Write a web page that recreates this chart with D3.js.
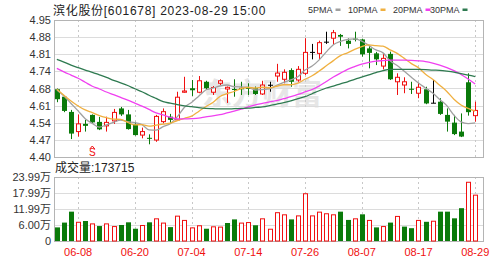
<!DOCTYPE html>
<html>
<head>
<meta charset="utf-8">
<script src="https://cdn.jsdelivr.net/npm/d3@7"></script>
<style>
body { margin: 0; background: #fff; }
text { font-family: "Liberation Sans", "Noto Sans CJK SC", sans-serif; }
</style>
</head>
<body>
<div id="chart"></div>
<script>
var dates = ["06-05","06-06","06-07","06-08","06-09","06-12","06-13","06-14","06-15","06-16",
    "06-19","06-20","06-21","06-26","06-27","06-28","06-29","06-30","07-03","07-04",
    "07-05","07-06","07-07","07-10","07-11","07-12","07-13","07-14","07-17","07-18",
    "07-19","07-20","07-21","07-24","07-25","07-26","07-27","07-28","07-31","08-01",
    "08-02","08-03","08-04","08-07","08-08","08-09","08-10","08-11","08-14","08-15",
    "08-16","08-17","08-18","08-21","08-22","08-23","08-24","08-25","08-28","08-29"];

var tickDates = ["06-08","06-20","07-04","07-14","07-26","08-07","08-17","08-29"];

var open = [4.672,4.642,4.581,4.502,4.533,4.569,4.541,4.525,4.545,4.595,
    4.571,4.531,4.488,4.477,4.468,4.542,4.562,4.549,4.660,4.676,
    4.660,4.702,4.660,4.696,4.673,4.673,4.678,4.677,4.676,4.653,
    4.690,4.725,4.712,4.749,4.709,4.736,4.822,4.816,4.863,4.877,
    4.890,4.867,4.875,4.872,4.836,4.816,4.765,4.814,4.702,4.689,
    4.674,4.656,4.672,4.618,4.622,4.569,4.538,4.502,4.700,4.566];
var high = [4.675,4.645,4.589,4.571,4.549,4.571,4.561,4.562,4.593,4.601,
    4.589,4.541,4.518,4.491,4.569,4.595,4.573,4.662,4.722,4.709,
    4.725,4.706,4.685,4.712,4.683,4.712,4.702,4.696,4.683,4.706,
    4.702,4.774,4.752,4.756,4.765,4.877,4.854,4.867,4.903,4.910,
    4.894,4.876,4.903,4.875,4.846,4.822,4.814,4.823,4.736,4.720,
    4.702,4.698,4.682,4.709,4.636,4.595,4.569,4.575,4.736,4.622];
var low = [4.620,4.580,4.472,4.482,4.502,4.533,4.508,4.502,4.533,4.565,
    4.510,4.486,4.475,4.451,4.461,4.535,4.535,4.545,4.658,4.645,
    4.656,4.669,4.649,4.689,4.617,4.642,4.649,4.649,4.649,4.649,
    4.662,4.702,4.696,4.682,4.702,4.729,4.792,4.792,4.854,4.850,
    4.846,4.836,4.864,4.803,4.756,4.769,4.752,4.709,4.649,4.656,
    4.653,4.636,4.612,4.616,4.569,4.502,4.488,4.480,4.566,4.542];
var close = [4.632,4.585,4.494,4.533,4.525,4.539,4.511,4.539,4.579,4.571,
    4.512,4.488,4.502,4.474,4.563,4.582,4.549,4.640,4.665,4.668,
    4.706,4.676,4.679,4.706,4.680,4.670,4.672,4.674,4.653,4.689,
    4.690,4.737,4.740,4.702,4.752,4.820,4.822,4.859,4.863,4.899,
    4.883,4.854,4.872,4.812,4.818,4.792,4.796,4.712,4.720,4.702,
    4.670,4.680,4.615,4.618,4.573,4.542,4.492,4.482,4.580,4.587];
var prevClose0 = 4.660;

var volume = [51000,69000,110000,72000,75000,66000,56000,66000,56000,60000,
    70000,46000,60000,70000,85000,69000,52000,95000,79000,51000,
    59000,46000,55000,54000,67500,81000,69000,71000,59000,85000,
    46000,108000,100000,81000,96000,179000,96000,110000,104000,100000,
    110000,79000,85000,100000,79000,51000,56000,69000,94000,54000,
    48000,79000,72000,76000,110000,110000,85000,123000,222000,173715];

var ma5 = [4.669,4.645,4.615,4.585,4.554,4.535,4.520,4.529,4.539,4.548,
    4.542,4.538,4.530,4.509,4.508,4.522,4.534,4.562,4.600,4.619,
    4.644,4.669,4.677,4.685,4.689,4.682,4.681,4.680,4.669,4.671,
    4.674,4.688,4.700,4.710,4.722,4.749,4.765,4.790,4.822,4.851,
    4.864,4.872,4.874,4.865,4.848,4.830,4.818,4.786,4.767,4.744,
    4.720,4.697,4.677,4.657,4.631,4.606,4.568,4.541,4.534,4.537];
var ma10 = [4.672,4.648,4.625,4.605,4.589,4.578,4.566,4.558,4.552,4.551,
    4.539,4.529,4.530,4.524,4.528,4.532,4.536,4.546,4.555,4.564,
    4.583,4.602,4.619,4.643,4.654,4.663,4.675,4.679,4.677,4.680,
    4.678,4.684,4.690,4.690,4.697,4.712,4.726,4.745,4.766,4.787,
    4.807,4.818,4.832,4.843,4.850,4.847,4.845,4.830,4.816,4.796,
    4.775,4.758,4.732,4.712,4.688,4.663,4.632,4.609,4.595,4.584];
var ma20 = [4.756,4.742,4.729,4.716,4.700,4.684,4.673,4.661,4.650,4.639,
    4.628,4.616,4.604,4.591,4.577,4.569,4.559,4.553,4.553,4.554,
    4.556,4.561,4.565,4.570,4.577,4.584,4.592,4.601,4.609,4.615,
    4.621,4.626,4.634,4.642,4.651,4.661,4.671,4.685,4.703,4.721,
    4.737,4.752,4.763,4.773,4.780,4.785,4.787,4.789,4.789,4.789,
    4.788,4.786,4.783,4.777,4.769,4.759,4.747,4.731,4.713,4.693];
var ma30 = [4.792,4.781,4.769,4.759,4.749,4.740,4.730,4.720,4.708,4.698,
    4.687,4.674,4.662,4.648,4.635,4.622,4.616,4.610,4.605,4.602,
    4.598,4.595,4.594,4.593,4.593,4.594,4.595,4.596,4.599,4.601,
    4.606,4.612,4.618,4.625,4.634,4.642,4.654,4.666,4.677,4.685,
    4.694,4.702,4.712,4.721,4.730,4.739,4.747,4.752,4.752,4.752,
    4.752,4.752,4.751,4.749,4.748,4.745,4.741,4.735,4.729,4.723];

var maNames = ["5PMA", "10PMA", "20PMA", "30PMA"];
var maColors = ["#a0a0a0", "#f0b040", "#f040f0", "#2e7a50"];

var title = "滨化股份[601678] 2023-08-29 15:00";
var volTitle = "成交量:173715";
var signalIndex = 5;

var red = "#f01010", green = "#0a7a0a";

var W = 503, H = 262;
var left = 54, right = 483;
var priceTop = 20, priceBottom = 157;
var volTop = 177, volBottom = 241;

var svg = d3.select("#chart").append("svg")
    .attr("width", W).attr("height", H);

var x = d3.scaleLinear().domain([-0.4, 60.1]).range([left, right]);
var y = d3.scaleLinear().domain([4.40, 4.95]).range([priceBottom, priceTop]);
var yv = d3.scaleLinear().domain([0, 239900]).range([volBottom, volTop]);

var priceTicks = d3.range(9).map(function (k) { return 4.40 + k * 0.55 / 8; });
var volTicks = d3.range(5).map(function (k) { return 239900 * k / 4; });
var tickIdx = tickDates.map(function (d) { return dates.indexOf(d); });

// watermark
svg.append("text")
    .attr("x", 262).attr("y", 104)
    .attr("text-anchor", "middle")
    .style("font-size", "30px").style("font-weight", "bold")
    .style("fill", "#e6e6e6")
    .text("东方财富");

// grids
function hgrid(scale, ticks) {
    svg.append("g")
        .selectAll("line").data(ticks).enter().append("line")
        .attr("x1", left).attr("x2", right)
        .attr("y1", function (d) { return Math.round(scale(d)) + 0.5; })
        .attr("y2", function (d) { return Math.round(scale(d)) + 0.5; })
        .attr("stroke", "#dcdcdc");
}
hgrid(y, priceTicks);
hgrid(yv, volTicks);

[[priceTop, priceBottom], [volTop, volBottom]].forEach(function (r) {
    svg.append("g").selectAll("line").data(tickIdx).enter().append("line")
        .attr("x1", function (d) { return Math.round(x(d)) + 0.5; })
        .attr("x2", function (d) { return Math.round(x(d)) + 0.5; })
        .attr("y1", r[0]).attr("y2", r[1])
        .attr("stroke", "#c8c8c8")
        .attr("stroke-dasharray", "2,3");
    svg.append("rect")
        .attr("x", left + 0.5).attr("y", r[0] + 0.5)
        .attr("width", right - left).attr("height", r[1] - r[0])
        .attr("fill", "none").attr("stroke", "#b4b4b4");
});

// y labels
svg.append("g").selectAll("text").data(priceTicks).enter().append("text")
    .attr("x", 51).attr("y", function (d) { return y(d) + 4; })
    .attr("text-anchor", "end")
    .style("font-size", "11px").style("fill", "#333")
    .text(function (d) { return (d + 1e-9).toFixed(2); });

svg.append("g").selectAll("text").data(volTicks).enter().append("text")
    .attr("x", 51).attr("y", function (d) { return yv(d) + 4; })
    .attr("text-anchor", "end")
    .style("font-size", "11px").style("fill", "#333")
    .text(function (d) { return d === 0 ? "0" : (d / 10000).toFixed(2) + "万"; });

// x labels
svg.append("g").selectAll("text").data(tickIdx).enter().append("text")
    .attr("x", function (d) { return x(d); }).attr("y", 256)
    .attr("text-anchor", "middle")
    .style("font-size", "11px").style("fill", red)
    .text(function (d) { return dates[d]; });

// candles
var idx = d3.range(dates.length);
var bw = 5;
var candles = svg.append("g").selectAll("g").data(idx).enter().append("g");
function candleColor(i) {
    if (close[i] > open[i]) return red;
    if (close[i] < open[i]) return green;
    return "#000";
}
candles.append("line")
    .attr("x1", function (i) { return Math.round(x(i)) + 0.5; })
    .attr("x2", function (i) { return Math.round(x(i)) + 0.5; })
    .attr("y1", function (i) { return y(high[i]); })
    .attr("y2", function (i) { return y(low[i]); })
    .attr("stroke", candleColor);
candles.append("rect")
    .attr("x", function (i) { return Math.round(x(i)) - 2 + (close[i] > open[i] ? 0.5 : 0); })
    .attr("y", function (i) { return y(Math.max(open[i], close[i])); })
    .attr("width", function (i) { return close[i] > open[i] ? bw - 1 : bw; })
    .attr("height", function (i) { return Math.max(1, Math.abs(y(open[i]) - y(close[i]))); })
    .attr("fill", function (i) { return close[i] > open[i] ? "#fff" : candleColor(i); })
    .attr("stroke", function (i) { return close[i] > open[i] ? red : "none"; });

// moving averages
[ma5, ma10, ma20, ma30].forEach(function (s, k) {
    svg.append("path")
        .datum(s)
        .attr("fill", "none")
        .attr("stroke", maColors[k])
        .attr("stroke-width", 1.3)
        .attr("d", d3.line()
            .x(function (d, i) { return x(i); })
            .y(function (d) { return y(d); })
            .curve(d3.curveMonotoneX));
});

// signal marker
svg.append("text")
    .attr("x", x(signalIndex)).attr("y", 156)
    .attr("text-anchor", "middle")
    .style("font-size", "10px").style("fill", red)
    .text("S");
svg.append("path")
    .attr("d", "M" + (x(signalIndex) - 2.5) + ",149 L" + x(signalIndex) + ",146 L" + (x(signalIndex) + 2.5) + ",149")
    .attr("fill", "none").attr("stroke", red);

// volume bars
function isUp(i) {
    var prev = i === 0 ? prevClose0 : close[i - 1];
    return close[i] >= prev;
}
svg.append("g").selectAll("rect").data(idx).enter().append("rect")
    .attr("x", function (i) { return Math.round(x(i)) - 2 + (isUp(i) ? 0.5 : 0); })
    .attr("y", function (i) { return yv(volume[i]) + (isUp(i) ? 0.5 : 0); })
    .attr("width", function (i) { return isUp(i) ? bw - 1 : bw; })
    .attr("height", function (i) { return volBottom - yv(volume[i]) - (isUp(i) ? 0.5 : 0); })
    .attr("fill", function (i) { return isUp(i) ? "#fff" : green; })
    .attr("stroke", function (i) { return isUp(i) ? red : "none"; });

// titles
svg.append("text")
    .attr("x", 53).attr("y", 15)
    .style("font-size", "12px").style("fill", "#222")
    .style("letter-spacing", "0.7px")
    .text(title);
svg.append("text")
    .attr("x", 55).attr("y", 172)
    .style("font-size", "12px").style("fill", "#222")
    .text(volTitle);

// legend
var legX = [308, 348, 393, 430];
maNames.forEach(function (n, k) {
    var t = svg.append("text")
        .attr("x", legX[k]).attr("y", 13)
        .style("font-size", "9px").style("fill", "#333")
        .text(n);
    var w = t.node().getComputedTextLength();
    svg.append("rect")
        .attr("x", legX[k] + w + 3).attr("y", 8.5)
        .attr("width", 5).attr("height", 2.5)
        .attr("fill", maColors[k]);
});
</script>
</body>
</html>
